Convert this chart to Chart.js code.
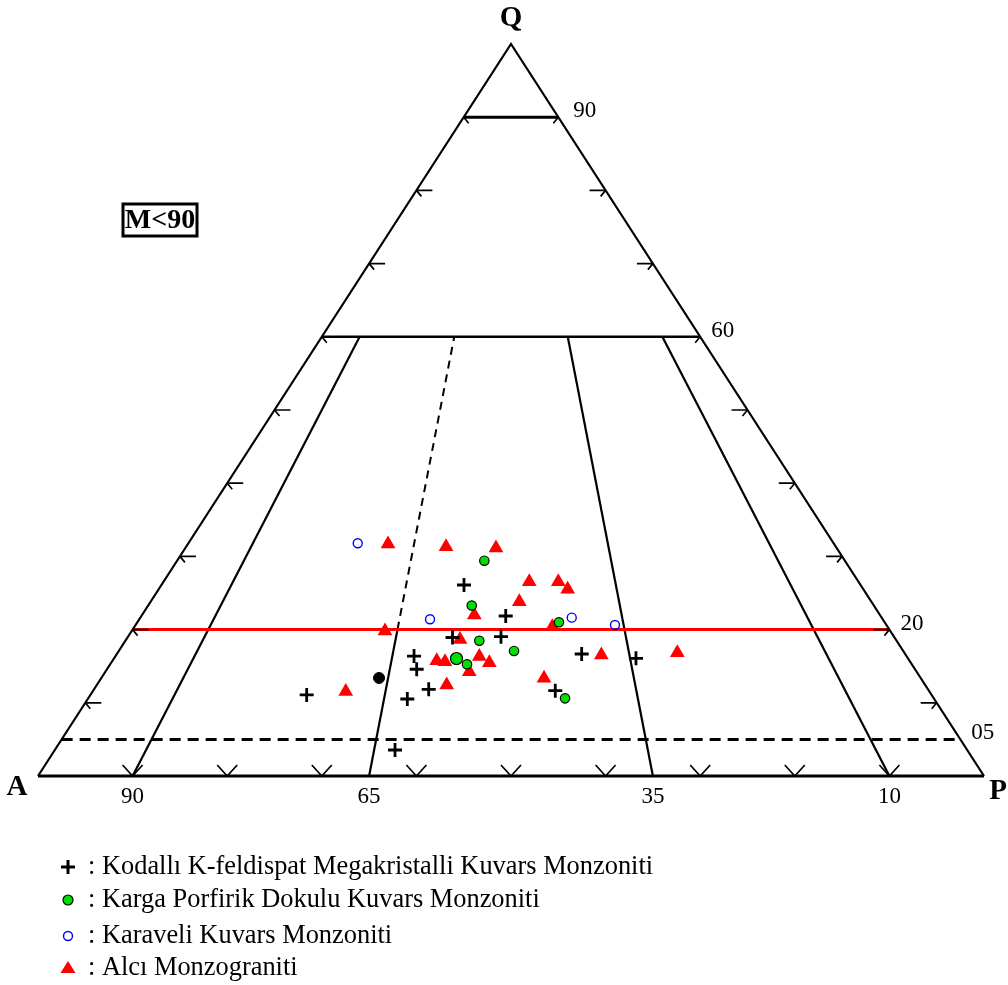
<!DOCTYPE html>
<html>
<head>
<meta charset="utf-8">
<script src="https://cdn.jsdelivr.net/npm/chart.js@4/dist/chart.umd.min.js"></script>
<style>
html, body { margin: 0; padding: 0; background: #fff; }
</style>
</head>
<body>
<canvas id="qap" width="1008" height="985"></canvas>
<script>
// --- DONNEES (x : 0 = sommet A, 100 = sommet P ; y : Q %) ---
const kodalliPts = [
    [45.03, 26.09], [49.44, 21.86], [43.82, 18.92], [48.94, 19.03], [39.75, 16.39],
    [40.03, 14.58], [41.30, 11.84], [39.04, 10.52], [28.40, 11.07], [37.74, 3.55],
    [57.47, 16.67], [63.21, 16.08], [54.68, 11.65]
];
const kargaPts = [
    [47.18, 29.41], [45.85, 23.29], [46.65, 18.48], [50.32, 17.08], [44.24, 16.05],
    [45.35, 15.26], [55.07, 21.00], [55.71, 10.61]
];
const KARGA_BIG = 4; // index du cercle vert plus gros
const otherPts = [[36.05, 13.39]];
const karaveliPts = [[33.80, 31.79], [41.44, 21.41], [56.42, 21.63], [60.99, 20.63]];
const alciPts = [
    [37.00, 31.69], [43.13, 31.33], [48.41, 31.15], [51.93, 26.54], [55.00, 26.54],
    [55.99, 25.51], [50.88, 23.81], [46.12, 22.00], [36.68, 19.81], [54.37, 20.40],
    [44.61, 18.65], [59.55, 16.53], [67.58, 16.84], [42.15, 15.75], [43.02, 15.61],
    [46.65, 16.33], [47.71, 15.48], [45.59, 14.25], [43.20, 12.43], [53.49, 13.35],
    [32.53, 11.54]
];

const SERIES_NAMES = [
    ': Kodallı K-feldispat Megakristalli Kuvars Monzoniti',
    ': Karga Porfirik Dokulu Kuvars Monzoniti',
    ': Karaveli Kuvars Monzoniti',
    ': Alcı Monzograniti'
];

// --- CADRE DU DIAGRAMME ---
const Q_BORDERS = [90, 60];          // lignes horizontales noires
const Q_RED = 20;
const Q_DASHED = 5;
const RATIO_LINES = [10, 65, 90];    // P/(A+P) %, pleines jusqu'a Q=60
const RATIO_SPLIT = 35;              // pleine jusqu'a Q=20 puis tiretee
const RATIO_TOP = 60;
const SIDE_TICKS = [10, 20, 30, 40, 50, 60, 70, 80, 90];
const BASE_TICKS = [10, 20, 30, 40, 50, 60, 70, 80, 90];
const SIDE_LABEL_Q = [90, 60, 20, 5];
const SIDE_LABEL_TXT = ['90', '60', '20', '05'];
const BASE_LABEL_R = [10, 35, 65, 90];
const BASE_LABEL_TXT = ['90', '65', '35', '10'];

const SERIF = '"Liberation Serif", "Times New Roman", serif';

// --- UTILS ---
function tern(q, r) {
    // q : Q %, r : P/(A+P) %  ->  coordonnees du graphique
    return { x: r * (100 - q) / 100 + q / 2, y: q };
}
const toXY = arr => arr.map(p => ({ x: p[0], y: p[1] }));

function lineDs(pts, color, width, dash) {
    return {
        type: 'scatter', data: pts, showLine: true, fill: false,
        borderColor: color, borderWidth: width, borderDash: dash || [],
        pointRadius: 0, pointHoverRadius: 0, tension: 0, order: 10, clip: false,
        borderCapStyle: 'butt'
    };
}

// --- PLUGIN : graduations, textes, legende ---
const framePlugin = {
    id: 'frame',
    afterDatasetsDraw(chart) {
        const { ctx, scales: { x, y } } = chart;
        const px = p => [x.getPixelForValue(p.x), y.getPixelForValue(p.y)];
        ctx.save();
        ctx.strokeStyle = '#000';
        ctx.lineWidth = 1.7;

        // graduations des cotes
        SIDE_TICKS.forEach(q => {
            const [lx, ly] = px(tern(q, 0));
            const [rx, ry] = px(tern(q, 100));
            ctx.beginPath();
            ctx.moveTo(lx, ly); ctx.lineTo(lx + 16, ly);
            ctx.moveTo(lx, ly); ctx.lineTo(lx + 5, ly + 6);
            ctx.moveTo(rx, ry); ctx.lineTo(rx - 16, ry);
            ctx.moveTo(rx, ry); ctx.lineTo(rx - 5, ry + 6);
            ctx.stroke();
        });
        // graduations de la base
        BASE_TICKS.forEach(r => {
            const [bx, by] = px(tern(0, r));
            ctx.beginPath();
            ctx.moveTo(bx - 10, by - 11); ctx.lineTo(bx, by); ctx.lineTo(bx + 10, by - 11);
            ctx.stroke();
        });

        // etiquettes numeriques
        ctx.fillStyle = '#000';
        ctx.font = '23px ' + SERIF;
        ctx.textBaseline = 'middle';
        ctx.textAlign = 'left';
        SIDE_LABEL_Q.forEach((q, i) => {
            const [rx, ry] = px(tern(q, 100));
            ctx.fillText(SIDE_LABEL_TXT[i], rx + (q === 90 ? 15 : 11), ry - 6);
        });
        ctx.textAlign = 'center';
        BASE_LABEL_R.forEach((r, i) => {
            const [bx, by] = px(tern(0, r));
            ctx.fillText(BASE_LABEL_TXT[i], bx, by + 21);
        });

        // sommets
        ctx.font = 'bold 29px ' + SERIF;
        const [qx, qy] = px(tern(100, 0));
        ctx.fillText('Q', qx, qy - 25);
        const [ax, ay] = px(tern(0, 0));
        ctx.fillText('A', ax - 21, ay + 12);
        const [ppx, ppy] = px(tern(0, 100));
        ctx.fillText('P', ppx + 14, ppy + 16);

        // cadre M<90
        ctx.lineWidth = 3;
        ctx.strokeRect(123, 204, 74, 32);
        ctx.font = 'bold 28px ' + SERIF;
        ctx.fillText('M<90', 160, 221);

        // legende
        const rows = [867, 900, 936, 968];
        const mx = 68;
        // plus
        ctx.lineWidth = 3;
        ctx.beginPath();
        ctx.moveTo(mx - 7, rows[0]); ctx.lineTo(mx + 7, rows[0]);
        ctx.moveTo(mx, rows[0] - 7); ctx.lineTo(mx, rows[0] + 7);
        ctx.stroke();
        // cercle vert
        ctx.lineWidth = 1.2;
        ctx.beginPath(); ctx.arc(mx, rows[1], 5, 0, Math.PI * 2);
        ctx.fillStyle = '#00e000'; ctx.fill(); ctx.strokeStyle = '#000'; ctx.stroke();
        // cercle bleu
        ctx.lineWidth = 1.4;
        ctx.beginPath(); ctx.arc(mx, rows[2], 4.5, 0, Math.PI * 2);
        ctx.strokeStyle = '#0000ff'; ctx.stroke();
        // triangle rouge
        ctx.fillStyle = '#ff0000';
        ctx.beginPath();
        ctx.moveTo(mx, rows[3] - 7); ctx.lineTo(mx + 7.5, rows[3] + 5); ctx.lineTo(mx - 7.5, rows[3] + 5);
        ctx.closePath(); ctx.fill();

        ctx.fillStyle = '#000';
        ctx.font = '26.4px ' + SERIF;
        ctx.textAlign = 'left';
        SERIES_NAMES.forEach((t, i) => ctx.fillText(t, 88, rows[i]));
        ctx.restore();
    }
};

// --- CONSTRUCTION DES JEUX ---
const datasets = [
    { label: SERIES_NAMES[0], data: toXY(kodalliPts), pointStyle: 'cross', pointRadius: 7,
      pointBorderColor: '#000', pointBorderWidth: 2.8, order: 0 },
    { label: SERIES_NAMES[1], data: toXY(kargaPts), pointStyle: 'circle',
      pointRadius: c => c.dataIndex === KARGA_BIG ? 6 : 4.7,
      pointBackgroundColor: '#00e000', pointBorderColor: '#000', pointBorderWidth: 1.2, order: 0 },
    { label: 'autre', data: toXY(otherPts), pointStyle: 'circle', pointRadius: 5.5,
      pointBackgroundColor: '#000', pointBorderColor: '#000', pointBorderWidth: 1, order: 0 },
    { label: SERIES_NAMES[2], data: toXY(karaveliPts), pointStyle: 'circle', pointRadius: 4.5,
      pointBackgroundColor: 'rgba(0,0,0,0)', pointBorderColor: '#0000ff', pointBorderWidth: 1.4, order: 0 },
    { label: SERIES_NAMES[3], data: toXY(alciPts), pointStyle: 'triangle', pointRadius: 8.5,
      pointBackgroundColor: '#ff0000', pointBorderColor: '#ff0000', pointBorderWidth: 0, order: 0 }
];

// triangle principal
datasets.push(lineDs([tern(0, 0), tern(100, 0), tern(0, 100)], '#000', 2.2));
datasets.push(lineDs([tern(0, 0), tern(0, 100)], '#000', 3.2));
// lignes horizontales
Q_BORDERS.forEach(q => datasets.push(lineDs([tern(q, 0), tern(q, 100)], '#000', q === 90 ? 3 : 2.6)));
datasets.push(lineDs([tern(Q_RED, 0), tern(Q_RED, 100)], '#ff0000', 3));
datasets.push(lineDs([tern(Q_DASHED, 0), tern(Q_DASHED, 100)], '#000', 3, [11, 7]));
// lignes de rapport
RATIO_LINES.forEach(r => datasets.push(lineDs([tern(0, r), tern(RATIO_TOP, r)], '#000', 2.2)));
datasets.push(lineDs([tern(0, RATIO_SPLIT), tern(Q_RED, RATIO_SPLIT)], '#000', 2.2));
datasets.push(lineDs([tern(Q_RED, RATIO_SPLIT), tern(RATIO_TOP, RATIO_SPLIT)], '#000', 2, [8, 6]));

datasets.forEach(d => { if (!d.type) d.type = 'scatter'; });

new Chart(document.getElementById('qap').getContext('2d'), {
    type: 'scatter',
    data: { datasets },
    options: {
        responsive: false,
        animation: false,
        layout: { padding: { left: 38, right: 24, top: 44, bottom: 209 } },
        scales: {
            x: { type: 'linear', min: 0, max: 100, display: false },
            y: { type: 'linear', min: 0, max: 100, display: false }
        },
        plugins: { legend: { display: false }, tooltip: { enabled: false } },
        events: []
    },
    plugins: [framePlugin]
});
</script>
</body>
</html>
